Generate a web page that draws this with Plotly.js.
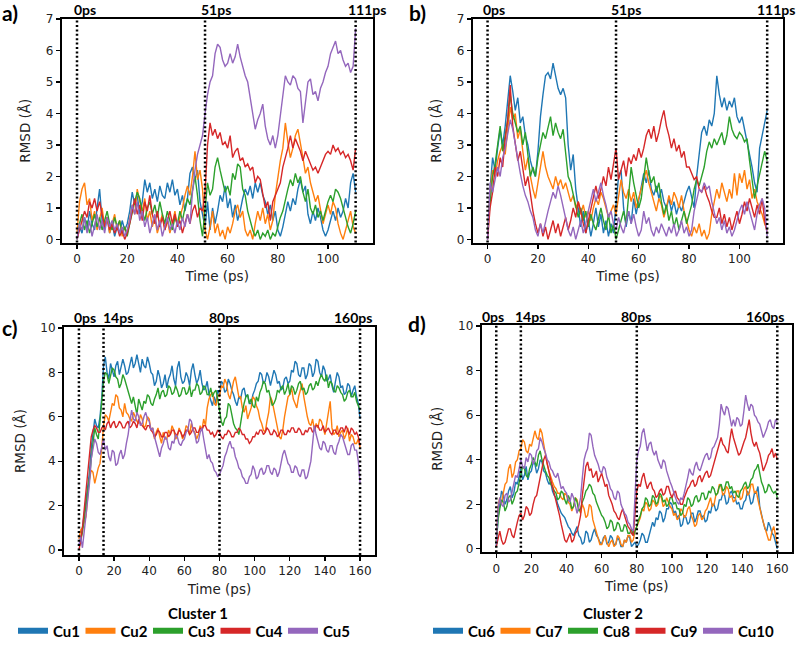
<!DOCTYPE html>
<html>
<head>
<meta charset="utf-8">
<script src="https://cdn.plot.ly/plotly-3.0.1.min.js"></script>
<style>html,body{margin:0;padding:0;background:#fff;}#chart{width:800px;height:648px;}</style>
</head>
<body>
<div id="chart"></div>
<script>
// ---------------- DATA ----------------
// Panels a) and b): one sample per ps, 0..111 ps
const timeAB = Array.from({length: 112}, (_, i) => i);
// Panels c) and d): one sample per ps, 0..160 ps
const timeCD = Array.from({length: 161}, (_, i) => i);

const namesCluster1 = ['Cu1', 'Cu2', 'Cu3', 'Cu4', 'Cu5'];
const namesCluster2 = ['Cu6', 'Cu7', 'Cu8', 'Cu9', 'Cu10'];

// event markers (ps) and their labels
const markersAB = [0, 51, 111];
const markerLabelsAB = ['0ps', '51ps', '111ps'];
const markersCD = [0, 14, 80, 160];
const markerLabelsCD = ['0ps', '14ps', '80ps', '160ps'];

// ---- panel a) cluster 1 ----
const a_Cu1 = [0.0,0.4,0.2,0.7,0.3,0.9,0.5,0.3,1.0,1.6, 0.6,0.3,0.7,0.2,0.5,0.1,0.4,0.2,0.6,0.3,
  0.5,0.9,1.5,1.1,1.4,0.8,1.2,1.9,1.5,1.8, 1.3,1.6,1.2,1.7,1.4,1.3,1.8,1.5,1.9,1.4,
  1.6,1.1,1.4,0.9,1.3,2.1,2.3,1.9,2.2,1.2, 0.8,0.4,1.2,0.3,1.0,0.5,0.9,1.4,1.2,1.7,
  1.0,1.3,0.7,1.1,0.6,0.9,1.3,1.6,1.4,1.7, 1.3,1.8,1.5,1.8,1.4,1.2,0.8,1.1,0.6,0.9,
  0.3,0.1,0.4,0.8,1.2,0.9,1.3,1.1,1.6,1.9, 1.5,1.7,0.8,0.5,0.9,0.6,1.0,0.7,0.3,0.1,
  0.3,0.6,0.9,0.6,1.0,0.7,0.9,1.3,1.0,1.8, 2.1,1.5];
const a_Cu2 = [0.2,1.2,1.6,1.8,1.1,1.3,0.6,0.9,0.3,0.7, 1.0,0.4,0.7,0.2,0.5,0.8,0.3,0.6,0.1,0.4,
  0.2,0.7,1.1,0.8,1.6,1.2,0.9,1.3,0.6,0.9, 0.4,0.7,0.2,0.5,0.8,0.3,0.6,0.2,0.5,0.9,
  0.4,0.7,1.0,1.4,1.7,1.4,2.0,2.8,1.9,2.2, 1.6,0.3,0.0,0.4,0.9,0.2,0.5,0.1,0.3,0.0,
  0.4,0.2,0.5,0.9,1.1,0.7,0.9,0.3,0.1,0.3, 0.0,0.5,0.9,0.6,1.0,0.5,0.8,0.3,0.6,1.4,
  2.0,2.5,2.9,3.7,3.1,2.6,2.9,3.3,3.5,3.1, 2.6,2.1,2.3,1.8,1.5,1.2,1.4,0.9,0.5,0.8,
  1.1,0.8,1.2,1.0,0.5,0.2,0.0,0.3,0.6,0.9, 0.4,0.2];
const a_Cu3 = [0.0,0.5,0.8,0.3,0.6,0.2,0.5,0.8,0.4,0.7, 0.3,0.6,0.9,0.5,0.3,0.7,0.4,0.6,0.2,0.4,
  0.1,0.5,0.9,1.2,1.5,1.3,0.9,0.6,1.0,1.2, 0.8,1.1,0.7,1.2,0.8,0.5,0.9,0.6,0.3,0.7,
  0.5,0.9,0.6,1.0,1.3,1.1,1.6,2.0,1.4,0.6, 0.1,0.9,1.8,1.4,1.6,2.3,2.6,2.2,1.8,1.5,
  1.7,1.4,2.1,1.9,2.4,2.3,1.6,1.4,0.9,0.6, 0.3,0.1,0.3,0.0,0.2,0.1,0.3,0.0,0.2,0.1,
  0.4,0.7,0.9,1.3,1.6,1.9,1.7,2.1,1.8,2.0, 1.5,1.2,1.6,1.0,0.8,1.1,0.7,0.9,0.6,0.9,
  1.2,1.4,1.2,1.6,1.5,1.3,1.0,0.7,0.4,0.2, 0.5,0.9];
const a_Cu4 = [0.0,0.3,0.6,0.9,0.7,1.2,1.0,1.3,0.9,1.2, 0.8,0.4,0.7,0.3,0.5,0.2,0.4,0.1,0.3,0.0,
  0.2,0.5,0.9,1.3,0.8,1.1,0.6,1.2,0.9,1.4, 0.8,0.5,0.9,0.4,0.7,0.3,0.6,0.9,0.5,0.8,
  0.4,0.6,0.2,0.5,0.8,0.5,0.9,1.1,0.7,1.0, 0.9,1.5,3.0,3.7,3.3,3.5,3.2,3.4,3.0,3.1,
  2.9,3.3,2.6,2.8,2.9,2.5,2.6,2.3,2.4,2.2, 2.3,1.8,2.0,1.9,1.5,1.0,1.2,0.6,1.2,1.4,
  1.6,1.8,2.3,2.6,2.9,3.3,2.9,3.2,3.0,2.8, 2.5,2.8,2.6,2.4,2.2,2.3,2.1,2.3,2.5,2.7,
  2.8,2.7,3.0,2.8,2.9,2.7,2.8,2.6,2.7,2.5, 2.2,2.9];
const a_Cu5 = [0.0,0.5,0.3,0.7,0.2,0.6,0.1,0.5,0.8,0.3, 0.6,0.2,0.7,0.4,0.6,0.3,0.5,0.2,0.4,0.1,
  0.3,0.6,1.1,0.8,1.2,0.6,0.9,0.4,0.7,0.2, 0.5,0.8,0.3,0.6,0.1,0.4,0.7,0.3,0.5,0.2,
  0.6,0.3,0.7,0.4,0.8,0.5,1.5,2.2,2.7,3.0, 3.3,4.0,4.6,5.0,5.2,5.9,6.2,6.1,5.7,5.5,
  5.6,5.9,5.6,5.8,6.2,5.8,5.5,5.2,5.0,4.5, 4.1,3.5,3.8,4.0,4.3,3.6,3.2,3.0,3.3,2.9,
  3.3,4.0,4.6,5.2,5.0,4.9,5.2,5.1,4.8,4.7, 3.7,4.4,5.0,5.1,4.6,4.7,4.4,4.8,5.0,5.3,
  5.5,5.9,6.1,6.3,5.9,6.0,5.7,5.5,5.6,5.3, 5.5,6.7];

// ---- panel b) cluster 2 ----
const b_Cu6 = [0.0,1.6,2.6,2.2,2.9,3.5,3.0,3.6,4.4,5.2, 4.7,4.1,4.5,3.7,3.9,3.3,3.0,2.5,2.2,2.0,
  2.8,3.9,4.6,5.2,5.3,5.1,5.6,5.2,4.8,4.6, 4.8,4.5,3.0,2.2,2.7,1.6,1.0,0.4,0.9,0.2,
  0.6,0.1,0.5,1.0,0.4,0.8,0.2,0.6,0.1,0.5, 0.2,1.2,2.0,2.2,1.0,0.4,0.9,0.5,1.3,0.8,
  1.2,1.7,2.1,1.8,2.2,1.6,1.4,1.7,1.3,1.6, 1.2,1.0,1.3,0.9,1.2,0.8,1.1,0.9,1.2,1.5,
  1.7,1.3,1.0,2.0,2.8,3.4,3.6,3.3,3.8,3.6, 4.0,5.2,4.6,4.2,4.5,4.1,4.4,4.2,4.5,3.9,
  3.7,3.9,3.5,3.1,2.8,2.3,1.8,1.5,2.9,3.3, 3.6,4.1];
const b_Cu7 = [0.2,1.5,2.2,2.0,2.5,2.8,3.0,2.7,3.5,4.2, 3.8,4.0,3.2,3.5,2.8,2.2,2.6,2.0,1.6,1.3,
  1.8,2.3,2.8,2.3,2.0,1.8,1.6,2.0,1.7,1.9, 1.6,1.8,1.5,1.2,1.4,1.0,1.2,0.8,1.1,0.7,
  0.9,0.6,1.0,1.3,1.1,1.5,1.3,1.0,0.7,0.9, 1.1,0.8,1.4,1.9,1.5,1.3,1.6,1.2,1.5,1.0,
  1.3,1.6,1.9,2.2,1.8,1.5,1.2,0.9,1.3,1.1, 0.7,1.0,1.4,1.1,1.5,1.3,1.0,1.4,0.9,0.6,
  0.3,0.1,0.4,0.2,0.5,0.1,0.3,0.0,0.2,0.8, 1.2,1.6,1.3,1.8,1.5,1.2,1.6,1.3,2.1,1.4,
  2.1,1.8,2.2,1.6,1.9,1.3,1.6,1.2,1.0,0.8, 0.5,0.3];
const b_Cu8 = [0.3,1.2,2.0,2.4,3.0,3.6,2.8,3.3,3.8,4.6, 4.0,3.7,3.4,3.6,3.0,3.4,2.7,2.0,2.3,2.0,
  2.6,3.0,3.4,3.2,3.6,3.9,3.3,3.7,3.4,3.2, 3.5,2.8,2.0,1.8,1.4,1.1,0.7,1.0,0.6,0.9,
  0.4,0.8,0.5,0.3,0.7,1.0,0.6,0.3,0.8,0.2, 0.5,0.0,0.3,0.6,0.9,0.5,1.4,2.3,1.8,1.4,
  1.0,1.3,1.9,2.6,2.1,1.8,2.0,1.5,1.8,1.2, 0.8,1.1,0.6,0.9,0.4,0.7,0.3,0.6,0.9,0.5,
  0.8,1.1,1.6,1.9,1.7,2.0,2.3,2.8,3.1,2.9, 3.2,3.0,3.2,3.4,3.0,3.3,3.9,3.5,3.3,3.2,
  3.4,3.3,3.1,3.2,2.5,1.9,1.3,1.7,2.1,2.5, 2.8,2.5];
const b_Cu9 = [0.0,1.0,1.5,2.3,2.0,2.6,2.3,3.2,3.8,4.9, 3.6,3.0,2.5,2.8,2.2,1.7,2.0,1.4,0.9,0.5,
  0.2,0.5,0.1,0.4,0.0,0.3,0.6,0.2,0.5,0.1, 0.4,0.7,0.3,0.6,1.0,0.7,1.2,0.9,0.5,0.2,
  0.6,1.0,1.4,1.7,1.3,1.6,2.0,1.7,2.3,1.9, 2.4,2.9,1.9,2.2,2.5,2.0,2.6,2.4,2.7,2.5,
  2.9,2.6,2.9,3.3,3.5,3.2,3.6,3.1,3.4,3.8, 4.1,3.6,3.3,2.9,3.2,2.8,3.0,2.6,2.8,2.3,
  2.3,2.1,1.9,2.0,1.6,1.5,1.7,1.4,1.2,0.9, 0.7,0.7,1.0,0.5,0.8,0.4,0.7,0.3,0.6,0.9,
  0.5,0.8,1.2,0.9,1.3,1.0,0.7,1.1,0.8,1.3, 0.6,0.2];
const b_Cu10 = [0.0,1.8,1.5,1.9,2.3,2.0,2.6,2.9,3.3,3.8, 3.5,3.0,2.5,2.1,1.7,1.4,1.2,0.9,0.7,0.3,
  0.1,0.5,0.2,0.6,0.9,1.2,1.5,1.3,1.7,1.4, 1.0,0.6,0.3,0.1,0.4,0.0,0.3,0.6,0.2,0.5,
  0.9,1.3,1.6,1.2,1.5,1.8,1.4,1.1,0.7,0.9, 0.5,0.3,0.7,0.4,0.2,0.6,0.9,0.5,0.8,0.4,
  0.1,0.3,0.9,0.5,0.7,0.3,0.1,0.4,0.2,0.5, 0.3,0.1,0.4,0.2,0.5,0.1,0.3,0.6,0.2,0.4,
  0.1,0.3,0.9,1.3,1.6,1.5,1.8,1.6,1.7,1.2, 0.8,0.5,0.7,0.3,0.6,0.2,0.4,0.1,0.3,0.6,
  0.9,1.1,0.8,1.2,0.9,0.6,0.3,0.8,1.1,1.3, 1.0,0.1];

// ---- panel c) cluster 1 (0..160 ps) ----
const c_Cu1 = [0.2,0.5,1.0,1.7,2.2,2.9,3.5,4.6,5.3,5.9,5.6,5.5,6.0,6.9,8.3,8.7,8.0,7.7,8.4,8.1,
  7.8,8.3,8.5,7.9,8.2,8.6,8.3,7.9,8.0,8.4,8.7,8.2,8.4,8.8,8.3,8.0,8.6,8.3,8.2,8.7,
  8.4,8.0,7.9,7.4,7.6,8.1,7.8,7.3,7.5,7.9,7.3,7.7,7.9,8.3,7.7,7.4,8.2,8.5,7.8,7.5,
  7.6,8.0,7.8,7.4,8.1,8.4,7.9,7.5,7.7,8.1,7.5,7.2,7.3,7.6,7.0,6.7,6.5,6.9,6.6,7.2,
  7.0,7.6,7.5,7.1,7.2,7.7,7.5,7.2,7.0,6.7,6.5,6.9,6.8,7.2,7.3,6.9,7.0,6.6,6.6,7.0,
  7.2,7.5,7.6,8.0,7.9,7.5,7.6,8.0,7.8,7.4,7.7,8.1,7.9,7.5,7.6,7.2,7.3,7.7,7.8,7.5,
  7.6,8.1,8.0,8.5,8.4,7.9,7.8,8.2,8.2,7.7,7.9,8.4,8.3,7.8,8.0,8.6,8.5,8.0,7.8,8.3,
  8.1,7.6,7.7,7.9,7.4,7.1,7.6,8.0,7.8,7.3,7.4,7.0,7.1,7.5,7.4,6.9,7.2,7.4,6.9,6.6,
  5.9];
const c_Cu2 = [0.5,0.9,1.0,1.3,1.5,2.4,3.2,3.6,3.5,3.0,3.4,3.7,3.9,4.6,5.6,6.1,6.0,5.8,6.2,6.6,
  6.5,7.0,6.9,6.4,6.3,6.0,6.6,6.2,6.1,5.9,5.8,6.2,6.0,5.8,5.7,6.1,5.9,5.5,5.6,6.0,
  5.9,5.4,5.5,5.0,5.3,5.5,5.1,4.8,5.3,5.0,5.0,5.4,5.2,5.6,5.4,5.0,5.1,5.5,5.3,5.0,
  5.2,5.6,5.5,5.2,5.7,5.4,5.3,5.0,5.2,5.6,5.4,5.9,5.6,6.4,6.8,7.0,7.1,6.6,6.5,7.0,
  6.9,7.4,7.3,7.7,7.5,7.0,6.8,7.3,7.6,7.8,7.3,6.9,6.9,6.4,6.2,6.5,5.9,6.2,6.4,6.9,
  6.8,6.5,6.3,5.9,5.7,5.4,5.3,5.8,6.2,6.9,6.7,6.3,5.9,5.4,5.1,5.0,5.4,6.0,6.5,6.9,
  7.0,7.3,6.8,6.6,6.4,6.9,7.2,7.5,6.9,6.4,6.0,5.7,5.6,5.9,5.4,5.7,5.5,5.9,5.8,5.5,
  5.2,5.7,6.2,6.7,5.5,5.2,5.3,5.6,5.1,5.3,5.4,5.0,5.2,5.5,4.9,5.2,5.1,4.8,4.8,5.0,
  4.6];
const c_Cu3 = [0.2,0.4,0.8,1.4,1.8,2.6,3.2,4.1,4.8,5.5,5.2,5.0,5.8,6.6,7.6,8.0,7.9,7.5,7.8,8.2,
  8.1,7.8,7.7,7.3,7.5,7.9,7.7,7.4,7.2,6.9,6.6,6.9,6.4,6.1,6.8,6.5,6.3,6.7,6.6,7.0,
  6.9,6.6,6.5,6.8,7.0,7.3,6.8,7.1,7.2,6.9,7.0,7.4,7.3,7.0,7.1,7.4,7.2,6.9,7.0,7.3,
  7.3,7.0,7.1,7.4,6.9,7.2,7.2,7.5,7.4,7.0,7.1,7.4,7.3,7.0,7.0,7.3,6.9,7.1,7.2,6.8,
  6.2,5.8,5.6,5.9,6.0,6.6,6.5,6.1,5.7,5.5,5.4,5.2,5.8,6.2,6.6,6.9,7.0,6.6,6.8,6.5,
  6.4,6.9,6.7,7.1,7.3,7.6,7.5,7.1,7.2,6.8,6.5,6.6,6.8,7.2,7.1,7.3,7.4,7.0,7.2,7.5,
  7.0,7.4,7.3,7.0,7.2,7.5,7.6,7.2,7.3,7.0,7.1,7.4,7.5,7.2,7.3,7.6,7.4,7.7,7.9,7.7,
  7.6,7.9,7.3,7.6,7.5,7.2,7.1,7.4,7.3,7.1,7.0,6.7,6.8,7.1,7.2,6.9,6.9,7.1,6.7,6.5,
  6.3];
const c_Cu4 = [0.0,0.4,1.0,1.8,2.4,3.3,4.0,5.1,5.4,5.6,5.5,5.3,5.3,5.5,5.6,5.4,5.7,5.8,5.5,5.7,
  5.8,5.5,5.6,5.8,5.7,5.5,5.5,5.7,5.8,5.5,5.6,5.8,5.7,5.5,5.9,5.7,5.6,5.5,5.4,5.6,
  5.6,5.4,5.3,5.1,5.2,5.4,5.3,5.1,5.1,5.3,5.3,5.1,5.2,5.4,5.4,5.2,5.2,5.4,5.3,5.1,
  5.2,5.4,5.4,5.2,5.3,5.5,5.5,5.3,5.3,5.5,5.4,5.6,5.6,5.4,5.4,5.2,5.3,5.1,5.2,5.4,
  5.3,5.1,5.0,5.2,5.2,5.4,5.3,5.1,5.1,5.3,5.3,5.5,5.4,5.2,5.2,5.0,5.0,4.8,4.9,5.1,
  5.1,5.3,5.2,5.4,5.4,5.2,5.3,5.5,5.4,5.2,5.2,5.4,5.3,5.1,5.2,5.4,5.4,5.2,5.2,5.4,
  5.3,5.5,5.5,5.3,5.3,5.5,5.4,5.2,5.2,5.4,5.3,5.5,5.5,5.3,5.4,5.6,5.6,5.4,5.4,5.6,
  5.3,5.4,5.5,5.3,5.2,5.4,5.4,5.2,5.3,5.5,5.5,5.3,5.6,5.4,5.2,5.5,5.4,5.2,5.3,5.1,
  4.7];
const c_Cu5 = [0.2,0.6,0.1,0.8,1.5,2.3,3.0,4.1,4.6,5.0,4.8,4.4,4.3,4.7,5.0,4.5,4.7,4.2,4.0,4.5,
  4.4,3.8,3.9,4.3,4.5,4.1,4.3,4.8,5.2,5.8,6.3,5.9,5.8,6.2,6.0,5.6,5.7,6.0,6.2,5.9,
  5.8,5.4,5.5,5.1,4.8,4.4,4.2,4.6,4.8,5.1,5.0,4.6,4.5,4.9,4.8,5.2,5.1,4.8,4.7,4.9,
  5.0,5.3,5.4,5.9,5.8,5.4,5.2,4.8,4.9,5.3,5.5,5.0,4.5,4.1,4.3,4.0,3.9,3.6,3.5,3.3,
  3.4,3.6,3.8,4.2,4.4,4.7,4.9,4.6,4.6,4.2,4.0,3.7,3.6,3.3,3.2,3.0,3.0,3.3,3.4,3.8,
  3.6,3.2,3.3,3.6,3.7,3.4,3.5,3.8,3.8,3.5,3.4,3.7,3.6,3.3,3.5,3.9,4.3,4.5,4.2,3.9,
  3.8,3.5,3.5,3.8,3.7,3.4,3.3,3.6,3.6,3.2,3.3,3.6,4.0,4.8,5.6,5.2,4.9,4.6,4.5,4.9,
  4.8,4.5,4.4,4.7,4.7,4.4,4.3,4.7,4.9,5.2,5.1,4.8,4.6,4.3,4.3,4.7,4.8,4.5,4.5,4.0,
  3.0];

// ---- panel d) cluster 2 (0..160 ps) ----
const d_Cu6 = [0.1,1.4,2.0,2.6,2.4,2.0,2.2,2.6,2.8,2.3,2.5,3.0,2.9,3.3,3.6,3.1,3.3,3.7,3.1,3.4,
  3.5,3.9,3.8,3.4,3.6,4.0,3.9,3.5,3.4,3.1,2.9,3.0,2.6,2.4,2.3,2.0,1.8,1.6,1.5,1.4,
  1.2,1.0,0.9,0.7,0.6,0.8,1.0,0.6,0.5,0.2,0.3,0.8,0.7,0.3,0.4,0.7,0.9,0.6,0.5,0.3,
  0.2,0.5,0.6,0.2,0.3,0.6,0.5,0.2,0.2,0.5,0.4,0.1,0.1,0.4,0.3,0.6,0.5,0.1,0.2,0.3,
  0.1,0.2,0.4,0.7,0.6,0.3,0.3,0.6,0.8,1.2,1.0,1.4,1.3,1.7,1.6,1.2,1.4,1.8,1.8,2.1,
  2.0,1.6,1.7,1.4,1.5,1.0,1.1,1.5,1.4,1.1,1.2,1.6,1.6,1.2,1.4,1.7,1.7,1.4,1.5,1.2,
  1.3,1.7,1.6,2.0,2.0,1.7,1.8,2.2,2.2,2.5,2.4,2.0,2.1,2.5,2.6,2.3,2.3,2.0,2.1,1.8,
  1.8,2.1,2.2,2.6,2.4,2.0,2.1,2.5,2.5,2.8,1.9,1.5,1.2,0.9,0.8,1.2,1.0,0.7,0.6,0.3,
  0.0];
const d_Cu7 = [0.3,1.9,2.3,2.0,2.5,2.9,3.0,3.6,3.8,3.2,3.4,3.9,4.0,4.4,4.5,4.9,4.8,4.4,4.3,4.7,
  4.6,5.0,5.3,5.0,4.9,5.4,5.2,4.7,4.2,3.8,3.5,3.2,3.0,2.8,2.7,2.5,2.5,2.3,2.2,2.5,
  2.4,2.1,2.0,1.7,1.9,2.3,2.2,1.8,1.6,2.0,1.8,1.4,1.5,2.0,1.9,1.3,1.0,0.7,0.5,0.2,
  0.2,0.4,0.6,0.3,0.1,0.3,0.4,0.1,0.2,0.6,0.5,0.2,0.1,0.4,0.3,0.6,0.6,0.3,0.4,0.8,
  1.0,1.2,1.4,1.8,1.7,2.1,2.0,1.7,1.8,2.2,2.1,1.9,2.0,2.4,2.3,1.9,2.0,2.3,2.1,1.9,
  1.8,1.5,1.6,1.3,1.4,1.8,1.7,1.4,1.5,1.8,1.9,1.5,1.3,1.0,1.1,1.5,1.6,1.3,1.4,1.7,
  1.8,2.1,2.3,1.9,2.0,2.4,2.5,2.9,2.8,2.4,2.5,2.8,2.7,2.3,2.4,2.1,2.2,2.6,2.6,2.2,
  2.3,2.7,2.8,2.4,2.5,2.9,2.9,2.5,2.6,2.2,1.8,1.5,1.2,0.9,0.7,0.4,0.4,0.8,1.0,0.6,
  0.2];
const d_Cu8 = [0.3,1.3,1.8,2.2,2.1,1.7,1.9,2.3,2.4,2.0,2.2,2.5,2.6,3.0,3.3,3.7,3.6,3.3,3.2,3.6,
  3.8,4.1,3.9,3.7,4.2,4.4,4.0,3.7,3.5,3.3,3.2,2.9,2.8,2.6,2.5,2.2,2.3,2.6,2.5,2.2,
  2.0,2.4,2.2,1.8,1.9,2.3,2.1,1.7,1.8,2.1,2.3,2.6,2.7,2.9,2.8,2.5,2.4,2.1,1.9,1.7,
  1.5,1.4,1.2,0.9,1.0,1.3,1.2,0.8,0.9,1.2,1.1,0.8,0.8,1.1,1.0,0.7,0.7,0.9,0.6,0.8,
  1.0,1.3,1.5,1.8,1.9,2.3,2.2,1.9,2.0,2.4,2.3,2.0,2.1,2.5,2.4,2.1,2.2,1.9,2.0,2.3,
  2.3,2.0,2.1,1.8,1.8,1.5,1.6,2.0,1.9,2.3,2.2,1.9,2.0,2.3,2.4,2.1,2.2,2.5,2.5,2.2,
  2.3,2.6,2.5,2.8,2.7,2.4,2.5,2.8,2.9,2.6,2.7,3.0,3.0,2.7,2.8,2.5,2.6,2.4,2.3,2.6,
  2.7,2.9,3.0,2.7,2.8,3.1,3.2,3.5,3.6,3.8,3.3,3.0,2.8,2.5,2.6,2.9,2.8,2.6,2.5,2.6,
  2.3];
const d_Cu9 = [0.1,0.5,0.8,0.4,0.2,0.3,0.6,0.9,0.9,0.6,0.5,0.9,1.2,1.5,1.6,1.3,1.5,1.9,1.8,1.5,
  1.6,2.0,2.3,2.4,2.8,3.3,3.6,4.0,4.2,3.8,3.5,3.1,2.8,2.5,2.2,1.8,1.5,1.1,0.8,0.4,
  0.3,0.5,0.7,0.3,0.4,0.7,0.8,1.1,1.5,2.4,3.2,3.7,3.9,3.5,3.6,3.2,3.3,3.5,3.0,3.2,
  3.4,3.1,2.8,2.9,2.4,2.2,2.0,1.7,1.6,1.4,1.3,1.6,1.8,1.5,1.2,1.0,0.9,0.7,0.6,1.6,
  2.6,2.9,2.8,3.2,3.4,3.0,2.7,2.9,3.0,2.7,2.6,2.3,2.4,2.6,2.7,2.4,2.5,2.8,2.8,2.5,
  2.3,2.5,2.6,2.3,2.2,2.0,2.0,2.3,2.5,2.7,2.8,3.0,3.1,2.8,2.9,3.2,3.3,3.0,3.2,3.4,
  3.5,3.2,3.3,3.6,3.8,4.1,4.4,4.8,5.0,4.7,4.6,4.4,4.3,4.9,5.4,5.0,4.7,4.4,4.2,4.3,
  4.6,4.8,5.0,5.4,5.8,5.2,4.8,4.6,4.8,4.5,4.3,3.9,3.5,3.7,3.9,4.2,4.3,4.5,4.1,4.3,
  4.0];
const d_Cu10 = [0.2,1.8,2.3,2.0,1.9,2.4,2.5,2.1,2.2,2.6,2.9,3.3,3.2,3.7,4.0,3.7,3.6,4.1,3.9,4.3,
  4.2,3.8,4.0,4.4,4.5,5.0,4.8,4.5,4.3,4.0,3.9,3.6,3.5,3.3,3.2,3.4,3.0,2.7,2.8,2.6,
  2.5,2.2,2.1,2.5,2.3,1.9,1.6,1.9,2.3,3.2,4.0,4.3,4.5,5.2,5.1,4.6,4.2,4.0,3.8,3.5,
  3.4,3.7,3.6,3.2,3.0,2.7,2.6,2.3,2.2,2.6,2.5,2.0,1.8,1.6,1.5,1.2,1.1,0.9,0.8,2.4,
  4.0,4.4,4.6,5.2,5.4,4.9,4.4,4.7,4.8,4.4,4.2,4.4,4.0,3.8,3.6,4.0,3.9,3.5,3.2,3.0,
  2.8,2.5,2.3,2.1,2.0,2.3,2.2,2.5,2.8,3.2,3.6,3.4,3.3,3.7,3.9,3.6,3.5,3.8,4.0,4.2,
  4.3,4.0,4.1,4.5,4.6,4.8,5.0,5.6,6.5,6.2,6.0,6.4,6.3,5.9,5.5,5.8,5.5,5.9,5.8,5.5,
  5.6,6.2,6.9,6.5,6.2,6.5,6.4,6.0,5.9,5.7,5.6,5.3,5.0,5.2,5.4,5.7,5.8,5.5,5.4,5.8,
  5.7];

// ---------------- BUILD ----------------
const colors = ['#1f77b4', '#ff7f0e', '#2ca02c', '#d62728', '#9467bd'];
const W = 800, H = 648;
const px = v => v / W;
const py = v => 1 - v / H;

const panels = [
  {t: timeAB, series: [a_Cu1, a_Cu2, a_Cu3, a_Cu4, a_Cu5], names: namesCluster1, xa: 'x', ya: 'y', markers: markersAB},
  {t: timeAB, series: [b_Cu6, b_Cu7, b_Cu8, b_Cu9, b_Cu10], names: namesCluster2, xa: 'x2', ya: 'y2', markers: markersAB},
  {t: timeCD, series: [c_Cu1, c_Cu2, c_Cu3, c_Cu4, c_Cu5], names: namesCluster1, xa: 'x3', ya: 'y3', markers: markersCD},
  {t: timeCD, series: [d_Cu6, d_Cu7, d_Cu8, d_Cu9, d_Cu10], names: namesCluster2, xa: 'x4', ya: 'y4', markers: markersCD}
];

const traces = [];
panels.forEach(p => {
  p.series.forEach((s, i) => {
    traces.push({
      type: 'scatter', mode: 'lines', x: p.t, y: s, xaxis: p.xa, yaxis: p.ya,
      name: p.names[i], showlegend: false, hoverinfo: 'skip',
      line: {color: colors[i], width: 1.4}
    });
  });
});
// legend entries (swatches)
[[namesCluster1, 'legend'], [namesCluster2, 'legend2']].forEach(([names, lg]) => {
  names.forEach((n, i) => {
    const tr = {
      type: 'scatter', mode: 'lines', x: [null], y: [null], xaxis: 'x', yaxis: 'y',
      name: n, legend: lg, showlegend: true, line: {color: colors[i], width: 6}
    };
    if (n.length > 3) tr.legendwidth = 34;
    traces.push(tr);
  });
});

const tickFont = {family: 'DejaVu Sans', size: 12, color: '#222'};
const titleFont = {family: 'DejaVu Sans', size: 13.5, color: '#222'};
function xAxis(dom, range, anchor) {
  return {
    domain: dom, range: range, anchor: anchor, tickmode: 'linear', tick0: 0, dtick: 20,
    showline: true, mirror: true, linewidth: 2, linecolor: '#000',
    ticks: 'outside', ticklen: 4, tickwidth: 1.2, tickcolor: '#000',
    showgrid: false, zeroline: false, tickfont: tickFont,
    title: {text: 'Time (ps)', font: titleFont, standoff: 7}
  };
}
function yAxis(dom, range, anchor, dtick) {
  return {
    domain: dom, range: range, anchor: anchor, tickmode: 'linear', tick0: 0, dtick: dtick,
    showline: true, mirror: true, linewidth: 2, linecolor: '#000',
    ticks: 'outside', ticklen: 4, tickwidth: 1.2, tickcolor: '#000',
    showgrid: false, zeroline: false, tickfont: tickFont,
    title: {text: 'RMSD (Å)', font: titleFont, standoff: 12}
  };
}

const shapes = [];
panels.forEach(p => {
  p.markers.forEach(m => {
    shapes.push({type: 'line', xref: p.xa, yref: p.ya + ' domain', x0: m, x1: m, y0: 0, y1: 1,
      line: {color: '#000', width: 2.5, dash: '2px,2.4px'}, layer: 'above'});
  });
});

const boldFont = {family: 'Lato', size: 14, color: '#000', weight: 'bold'};
const annotations = [];
function addText(text, x, y, font, anchor) {
  annotations.push({text: text, xref: 'paper', yref: 'paper', x: px(x), y: py(y),
    xanchor: anchor || 'center', yanchor: 'middle', showarrow: false, font: font});
}
const letterFont = {family: 'Lato', size: 21, color: '#000', weight: 'bold'};
addText('a)', 0, 13, letterFont, 'left');
addText('b)', 407, 13, letterFont, 'left');
addText('c)', 0, 332, letterFont, 'left');
addText('d)', 406, 328, letterFont, 'left');
// marker labels
const labelPosA = [[85, 10], [216, 10], [367, 10]];
const labelPosB = [[494, 10], [626, 10], [776, 10]];
const labelPosC = [[84.5, 322], [117.5, 322], [223.5, 322], [353, 322]];
const labelPosD = [[493.5, 321], [530, 321], [635.5, 321], [765, 321]];
markerLabelsAB.forEach((l, i) => addText(l, labelPosA[i][0], labelPosA[i][1], boldFont));
markerLabelsAB.forEach((l, i) => addText(l, labelPosB[i][0], labelPosB[i][1], boldFont));
markerLabelsCD.forEach((l, i) => addText(l, labelPosC[i][0], labelPosC[i][1], boldFont));
markerLabelsCD.forEach((l, i) => addText(l, labelPosD[i][0], labelPosD[i][1], boldFont));
addText('Cluster 1', 198, 622, {family: 'Lato', size: 15, color: '#000', weight: 'bold'});
addText('Cluster 2', 613, 622, {family: 'Lato', size: 15, color: '#000', weight: 'bold'});

const legendBase = {
  orientation: 'h', xanchor: 'left', yanchor: 'middle', y: py(640),
  font: {family: 'Lato', size: 15, color: '#000', weight: 'bold'},
  entrywidth: 22.5, entrywidthmode: 'pixels',
  bgcolor: 'rgba(0,0,0,0)', borderwidth: 0, itemclick: false, itemdoubleclick: false
};

const layout = {
  width: W, height: H, margin: {l: 0, r: 0, t: 0, b: 0},
  paper_bgcolor: '#fff', plot_bgcolor: '#fff',
  xaxis: xAxis([px(61.7), px(372.7)], [-6.1, 117.8], 'y'),
  yaxis: yAxis([py(246), py(19)], [-0.1, 7.01], 'x', 1),
  xaxis2: xAxis([px(472.7), px(783.3)], [-5.9, 117.4], 'y2'),
  yaxis2: yAxis([py(246), py(19)], [-0.1, 7.01], 'x2', 1),
  xaxis3: xAxis([px(64), px(375)], [-8.5, 168.5], 'y3'),
  yaxis3: yAxis([py(562.7), py(331.7)], [-0.22, 10.04], 'x3', 2),
  xaxis4: xAxis([px(481.7), px(791.7)], [-8.3, 168.2], 'y4'),
  yaxis4: yAxis([py(560), py(330)], [-0.15, 10.03], 'x4', 2),
  shapes: shapes,
  annotations: annotations,
  showlegend: true,
  legend: Object.assign({}, legendBase, {x: px(13)}),
  legend2: Object.assign({}, legendBase, {x: px(428)})
};

Plotly.newPlot('chart', traces, layout, {staticPlot: true, displayModeBar: false});
</script>
</body>
</html>
